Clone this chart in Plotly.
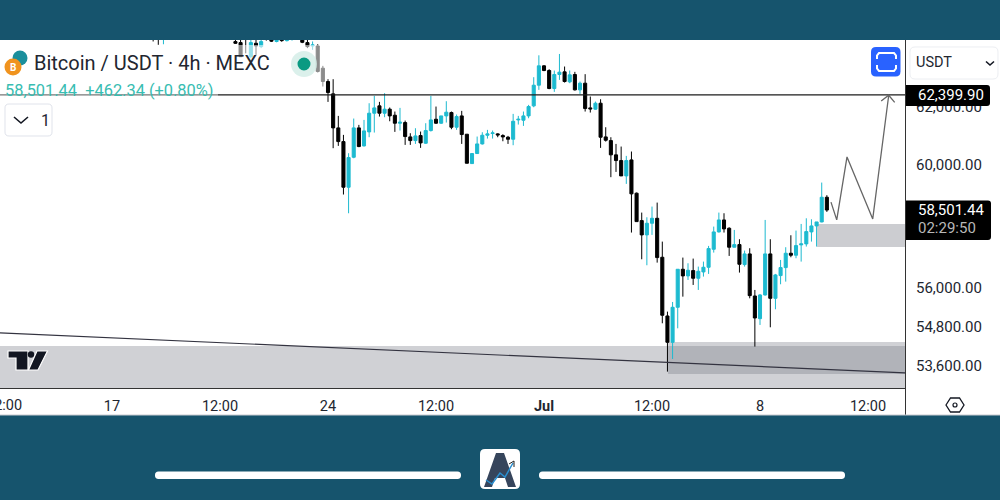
import pandas as pd
import plotly.graph_objects as go

# 4h candles. two stretches, the part in between is off the top of the chart
stub_dates = pd.date_range("2024-06-18 08:00", periods=3, freq="4h")
main_dates = pd.date_range("2024-06-21 00:00", periods=116, freq="4h")
dates = list(stub_dates) + list(main_dates)

opens = [
    65200, 64900, 64650,
    64295, 64259, 64550, 63755, 64235, 64115, 64500, 64400, 64300, 64420, 64330, 64450, 64520, 64440,
    64259, 64139, 64139, 63344, 62872,
    62439, 61259, 60790, 59254, 60259, 61259, 60644, 61122, 61765, 62020,
    61765, 61904, 61695, 61419, 61442, 60950, 60824, 60996, 60734, 61167,
    61556, 61419, 61672, 61788, 61281, 61672, 61042, 60045, 60384, 60711,
    61007, 61065, 61053, 60996, 60939, 60870, 61533, 61522, 61672, 62020,
    62743, 63427, 63261, 62626, 63120, 63214, 62860, 63120, 62579, 62813,
    61950, 61904, 62112, 60950, 60824, 60339, 60147, 59631, 60169, 59056,
    58155, 57691, 58069, 58231, 56973, 55128, 54320, 55397, 56591, 56380,
    56548, 56306, 56506, 56654, 57229, 57788, 58177, 57907, 57294, 57379,
    56739, 57080, 55749, 55045, 55781, 57080, 55676, 56390, 56644, 57101,
    57037, 57369, 57401, 57788, 57983, 58112, 58922,
]
highs = [
    65400, 65000, 65100,
    64500, 64600, 64650, 64500, 64400, 64500, 64600, 64500, 64500, 64520, 64560, 64620, 64700, 64560,
    64500, 64300, 64200, 63427, 62954,
    62954, 61672, 61019, 60395, 61580, 61362, 61533, 62112, 62368, 62159,
    62462, 61962, 61823, 61950, 61510, 61076, 61247, 61133, 61419, 62368,
    61996, 61672, 62182, 61823, 61719, 61846, 61042, 60395, 60962, 61110,
    61190, 61167, 61076, 61042, 60984, 61742, 61672, 61823, 62054, 63025,
    63803, 63451, 63309, 63261, 63851, 63403, 63261, 63214, 62872, 63132,
    62345, 62170, 62251, 61281, 60939, 60711, 60621, 60305, 60452, 59078,
    58418, 58264, 58615, 58746, 57475, 55262, 55562, 56591, 56962, 56781,
    56930, 56675, 56834, 57336, 57961, 58418, 58396, 57939, 57853, 57551,
    57187, 57262, 55938, 55812, 58177, 57551, 56443, 56887, 57294, 57680,
    57831, 58047, 58231, 58199, 58112, 59409, 58990,
]
lows = [
    64300, 64180, 64200,
    64211, 63745, 63875, 63700, 63815, 64060, 64330, 64280, 64270, 64290, 64300, 64330, 64360, 64240,
    64060, 64000, 63191, 62696, 62158,
    60565, 60644, 59012, 58396, 60225, 60600, 60621, 60939, 61099, 61649,
    61626, 61487, 61122, 61167, 60678, 60678, 60711, 60576, 60711, 61133,
    61396, 61396, 61442, 61213, 61190, 60711, 60056, 60034, 60372, 60689,
    60893, 60893, 60939, 60802, 60711, 60666, 61373, 61327, 61591, 61973,
    62579, 63238, 62602, 62509, 62930, 62836, 62813, 62556, 62439, 61823,
    61788, 61881, 60576, 60790, 59589, 59765, 59631, 59365, 57767, 58123,
    56908, 56718, 57691, 56802, 54902, 53434, 53814, 54748, 55728, 56252,
    56095, 55938, 56358, 56443, 57122, 57767, 57767, 57015, 57294, 56485,
    56675, 55676, 54189, 54851, 55760, 54779, 55335, 56116, 56200, 56973,
    56941, 56834, 57315, 57475, 57315, 58100, 58440,
]
closes = [
    64900, 64650, 65000,
    64235, 63755, 64400, 64259, 64139, 64295, 64400, 64310, 64420, 64330, 64450, 64520, 64440, 64270,
    64115, 64175, 63226, 62872, 62485,
    61259, 60790, 59254, 60248, 61259, 60621, 61156, 61765, 61950, 61765,
    61904, 61672, 61419, 61453, 60962, 60824, 60984, 60745, 61167, 61533,
    61419, 61672, 61800, 61281, 61649, 61030, 60056, 60384, 60711, 61007,
    61053, 61087, 61019, 60950, 60870, 61487, 61556, 61672, 61996, 62743,
    63427, 63261, 62626, 63120, 63202, 62872, 63108, 62579, 62813, 61927,
    61915, 62112, 60939, 60836, 60339, 60147, 59631, 60147, 59034, 58123,
    57691, 58069, 58231, 56962, 55149, 54320, 55397, 56591, 56380, 56559,
    56306, 56527, 56654, 57251, 57788, 58177, 57885, 57294, 57379, 56749,
    57080, 55760, 55066, 55781, 57080, 55676, 56411, 56644, 57101, 57037,
    57347, 57401, 57799, 57983, 58112, 58922, 58501,
]

level_price = 62399.90
last_price = 58501.44

trend_dates = ["2024-06-13 08:53", "2024-07-12 16:46"]
trend_prices = [54606, 53394]

# hand drawn forecast path and its arrow head
path_dates = ["2024-07-10 07:12", "2024-07-10 11:40", "2024-07-10 19:40", "2024-07-11 15:40", "2024-07-12 04:05"]
path_prices = [58760, 58180, 60270, 58210, 62380]
head_dates = ["2024-07-11 22:15", "2024-07-12 04:05", "2024-07-12 08:45"]
head_prices = [62190, 62390, 62140]

tick_dates = ["2024-06-17", "2024-06-20 12:00", "2024-06-24", "2024-06-27 12:00",
              "2024-07-01", "2024-07-04 12:00", "2024-07-08", "2024-07-11 12:00"]
tick_labels = ["17", "12:00", "24", "12:00", "<b>Jul</b>", "12:00", "8", "12:00"]
price_ticks = [53600, 54800, 56000, 60000, 62000]
price_labels = ["53,600.00", "54,800.00", "56,000.00", "60,000.00", "62,000.00"]

BG = "#16546d"
UP = "#1dbad0"
DOWN = "#000000"
LEGEND = "#38bdb2"
ZONE = "rgba(120,123,134,0.35)"
FONT = "Roboto"

PLOT_W = 905
PLOT_TOP = 40
PLOT_BOTTOM = 388


# pixel helpers for the app furniture round the chart
def px(x):
    return x / PLOT_W


def py(y):
    return (PLOT_BOTTOM - y) / (PLOT_BOTTOM - PLOT_TOP)


def rect(x0, y0, x1, y1, fill, layer="above", line=None, width=1):
    return dict(type="rect", xref="paper", yref="paper", x0=px(x0), x1=px(x1), y0=py(y0), y1=py(y1),
                fillcolor=fill, layer=layer, line=dict(color=line, width=width if line else 0))


def circle(cx, cy, r, fill):
    return dict(type="circle", xref="paper", yref="paper", x0=px(cx - r), x1=px(cx + r), y0=py(cy - r),
                y1=py(cy + r), fillcolor=fill, layer="above", line=dict(width=0))


def path(points, fill=None, line=None, width=1, closed=False, layer="above"):
    d = "M " + " L ".join(f"{px(x):.5f},{py(y):.5f}" for x, y in points)
    if closed:
        d += " Z"
    return dict(type="path", xref="paper", yref="paper", path=d, fillcolor=fill, layer=layer,
                line=dict(color=line, width=width if line else 0))


def round_rect(x0, y0, x1, y1, r, fill, line=None, width=1, corners=(1, 1, 1, 1)):
    rtl, rtr, rbr, rbl = [c * r for c in corners]
    p = lambda x, y: f"{px(x):.5f},{py(y):.5f}"
    d = (f"M {p(x0 + rtl, y0)} L {p(x1 - rtr, y0)} Q {p(x1, y0)} {p(x1, y0 + rtr)} "
         f"L {p(x1, y1 - rbr)} Q {p(x1, y1)} {p(x1 - rbr, y1)} L {p(x0 + rbl, y1)} "
         f"Q {p(x0, y1)} {p(x0, y1 - rbl)} L {p(x0, y0 + rtl)} Q {p(x0, y0)} {p(x0 + rtl, y0)} Z")
    return dict(type="path", xref="paper", yref="paper", path=d, fillcolor=fill, layer="above",
                line=dict(color=line, width=width if line else 0))


def note(x, y, text, size, color, anchor="left", weight=None):
    return dict(xref="paper", yref="paper", x=px(x), y=py(y), text=text, showarrow=False, xanchor=anchor,
                yanchor="middle", font=dict(family=FONT, size=size, color=color, weight=weight), borderpad=0)


fig = go.Figure()

fig.add_trace(go.Candlestick(
    x=dates, open=opens, high=highs, low=lows, close=closes,
    increasing=dict(line=dict(color=UP, width=1), fillcolor=UP),
    decreasing=dict(line=dict(color=DOWN, width=1), fillcolor=DOWN),
    whiskerwidth=0, showlegend=False, hoverinfo="skip",
))
fig.add_trace(go.Scatter(x=[trend_dates[0], trend_dates[1]], y=[level_price, level_price], mode="lines",
                         line=dict(color="#1c1c1c", width=1.2), showlegend=False, hoverinfo="skip"))
fig.add_trace(go.Scatter(x=trend_dates, y=trend_prices, mode="lines",
                         line=dict(color="#333340", width=1.2), showlegend=False, hoverinfo="skip"))
fig.add_trace(go.Scatter(x=path_dates, y=path_prices, mode="lines",
                         line=dict(color="#666666", width=1.3), showlegend=False, hoverinfo="skip"))
fig.add_trace(go.Scatter(x=head_dates, y=head_prices, mode="lines",
                         line=dict(color="#666666", width=1.3), showlegend=False, hoverinfo="skip"))

shapes = [
    # white chart card behind everything
    rect(0, 40, 1000, 415, "#ffffff", layer="below"),
    # zones
    dict(type="rect", xref="x", yref="y", x0=trend_dates[0], x1=trend_dates[1], y0=52946, y1=54209,
         fillcolor=ZONE, layer="below", line=dict(width=0)),
    dict(type="rect", xref="x", yref="y", x0="2024-07-05 00:30", x1=trend_dates[1], y0=53364, y1=54330,
         fillcolor=ZONE, layer="below", line=dict(width=0)),
    dict(type="rect", xref="x", yref="y", x0="2024-07-09 20:24", x1=trend_dates[1], y0=57304, y1=58047,
         fillcolor="rgba(120,123,134,0.38)", layer="below", line=dict(width=0)),
    # title fades the candles under it
    rect(0, 48, 218, 101, "rgba(255,255,255,0.4)"),
    rect(218, 45, 325, 90, "rgba(255,255,255,0.55)"),
    # axis end lines
    rect(905, 40, 906, 415, "#333333"),
    rect(0, 414.5, 1000, 415.5, "#c9cbd1"),
    # status dot
    circle(304, 64, 13, "rgba(210,236,230,0.8)"),
    circle(304, 64, 6.5, "#0a9a82"),
    # coin logo
    circle(20, 58, 7.5, "#1b8f9c"),
    circle(13, 67, 8.5, "#f0931e"),
    # interval button
    round_rect(5, 104, 52, 136, 4, "#ffffff", line="#e0e3eb"),
    path([(14, 117), (21, 123), (28, 117)], line="#131722", width=1.6),
    # fullscreen button
    round_rect(871, 47, 900.5, 76.5, 5, "#2962ff"),
    path([(877, 59), (877, 55.5), (879, 53), (894, 53), (896, 55.5), (896, 59)], line="#ffffff", width=2),
    path([(877, 65), (877, 68.5), (879, 71), (894, 71), (896, 68.5), (896, 65)], line="#ffffff", width=2),
    # currency select
    round_rect(910, 47, 998, 79, 5, "#ffffff", line="#eceef2"),
    path([(986, 61.5), (990, 65), (994, 61.5)], line="#131722", width=1.6),
    # price labels
    round_rect(906, 85, 990, 106, 3, "#000000", corners=(0, 1, 1, 0)),
    round_rect(906, 200.5, 991, 240, 3, "#000000", corners=(0, 1, 1, 0)),
    # tradingview mark
    path([(8, 351), (28, 351), (28, 370), (16, 370), (16, 358), (8, 358)], fill="#131722", line="#ffffff",
         width=1.2, closed=True),
    circle(31, 354.5, 3.2, "#131722"),
    path([(37, 351), (47.5, 351), (38, 370), (28.5, 370)], fill="#131722", line="#ffffff", width=1.2,
         closed=True),
    # settings hexagon
    path([(946, 405), (950.5, 398), (959.5, 398), (964, 405), (959.5, 412), (950.5, 412)], line="#131722",
         width=1.3, closed=True),
    circle(955, 405, 2.6, "#131722"),
    circle(955, 405, 1.4, "#ffffff"),
    # footer bars and logo
    round_rect(155, 471.5, 461, 479, 3.5, "#ffffff"),
    round_rect(539, 471.5, 845, 479, 3.5, "#ffffff"),
    round_rect(480, 449, 520, 489, 5, "#ffffff"),
    path([(484, 487), (496, 453), (504, 453), (516, 487), (508, 487), (505, 478), (495, 478), (492, 487)],
         fill="#36455c", closed=True),
    path([(486, 480), (492, 484), (500, 473), (505, 477), (513, 463)], line="#2a8fd0", width=1.5),
    path([(509, 464), (514, 461), (514, 467)], line="#222222", width=1),
]

annotations = [
    note(33, 63.5, "Bitcoin / USDT · 4h · MEXC", 20, "#222630"),
    note(4, 90, "58,501.44  +462.34 (+0.80%)", 16.4, LEGEND),
    note(40, 120, "1", 16, "#222630"),
    note(915, 62.5, "USDT", 14.5, "#222630"),
    note(917, 95.5, "62,399.90", 15, "#ffffff"),
    note(917, 210, "58,501.44", 15, "#ffffff"),
    note(917, 228, "02:29:50", 15, "#b8b8b8"),
    note(13, 67, "<b>B</b>", 10, "#ffffff", anchor="center"),
    # plotly drops the tick that runs off the left edge, so it goes in by hand
    note(4, 405, "12:00", 14.5, "#222630", anchor="center"),
]

fig.update_layout(
    width=1000, height=500,
    margin=dict(l=0, r=95, t=40, b=112, pad=0),
    paper_bgcolor=BG, plot_bgcolor="#ffffff",
    boxgap=0.15,
    shapes=shapes, annotations=annotations,
    font=dict(family=FONT, color="#222630"),
    xaxis=dict(
        type="date", range=[trend_dates[0], trend_dates[1]], rangeslider=dict(visible=False),
        tickmode="array", tickvals=tick_dates, ticktext=tick_labels,
        tickfont=dict(family=FONT, size=14.5, color="#222630"), ticks="", showgrid=False, zeroline=False,
        showline=True, linecolor="#333333", linewidth=1, ticklabelstandoff=5,
    ),
    yaxis=dict(
        type="log", side="right", range=[4.72383, 4.80857],
        tickmode="array", tickvals=price_ticks, ticktext=price_labels,
        tickfont=dict(family=FONT, size=15, color="#222630"), ticks="", showgrid=False, zeroline=False,
        showline=False, ticklabelstandoff=10,
    ),
)

fig.write_html("out.html", config=dict(displayModeBar=False),
               post_script="document.body.style.margin='0';document.body.style.background='%s';" % BG)
